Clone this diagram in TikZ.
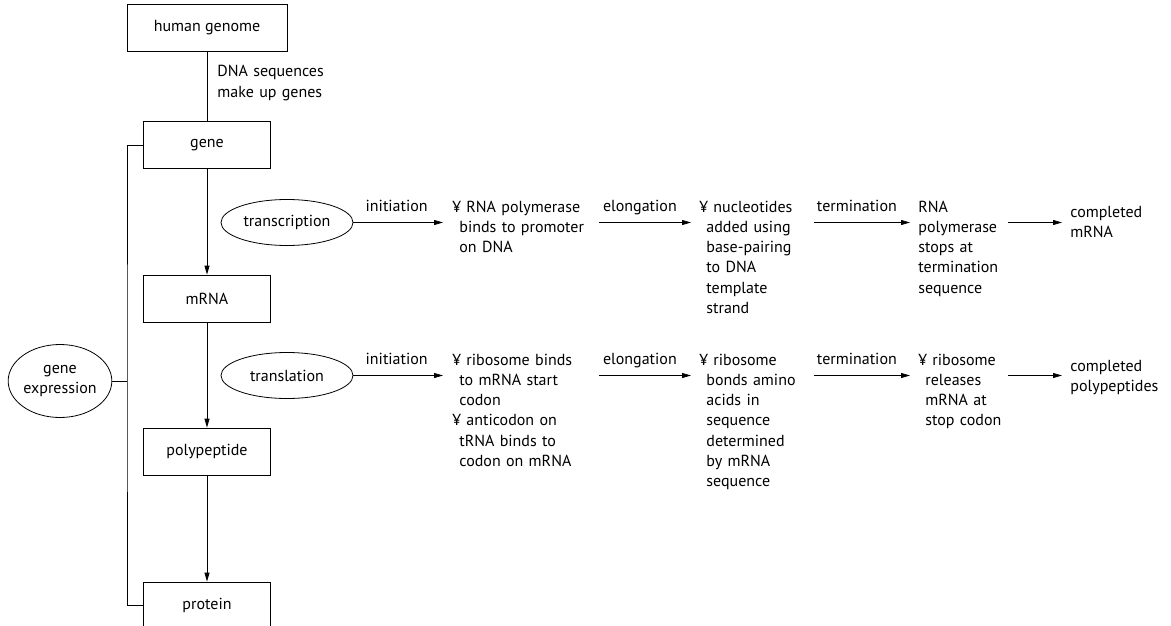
\documentclass[tikz,border=0pt]{standalone}
\usepackage{fontspec}
\setmainfont{PT Sans}
\usetikzlibrary{shapes.geometric,arrows.meta}
\hyphenpenalty=10000
\exhyphenpenalty=10000
\begin{document}
\begin{tikzpicture}
    [x=1pt, y=-1pt, line width=0.8pt,
     every node/.style={font=\fontsize{16}{20.3}\selectfont},
     box/.style={draw, minimum width=127pt, minimum height=47pt, inner sep=0pt},
     oval/.style={draw, ellipse, minimum width=132pt, minimum height=46pt, inner sep=0pt},
     txt/.style={anchor=base west, align=left, inner sep=0pt},
     lbl/.style={midway, anchor=base, inner sep=0pt, yshift=11pt, xshift=-6pt},
     arr/.style={-{Triangle[length=9pt,width=5pt]}},
     steparr/.style={arr, shorten <=6pt, shorten >=8pt}]
    \useasboundingbox (0,0) rectangle (1171,626);

    % main column
    \node [box, minimum width=160pt] (genome) at (207,27.5) {human genome};
    \node [box] (gene) at (207,145) {gene};
    \node [box] (mrna) at (207,298.5) {mRNA};
    \node [box] (poly) at (207,451.5) {polypeptide};
    \node [box] (prot) at (207,605.5) {protein};
    \node [txt, text width=120pt] (dnaseq) at (217,77) {DNA sequences\\make up genes};

    \draw (genome) -- (gene);
    \draw [arr] (gene) -- (mrna);
    \draw [arr] (mrna) -- (poly);
    \draw [arr] (poly) -- (prot);

    % gene expression bracket
    \node [oval, minimum width=99pt, minimum height=73pt, align=center] (genex) at (60,381) {gene\\expression};
    \coordinate (brk) at (127,381);
    \draw (gene.west) -| (brk) |- (prot.west);
    \draw (genex) -- (brk);

    % transcription
    \node [oval] (tcr) at (287,222.5) {transcription};
    \node [txt, text width=140pt] (t1) at (452,212) {¥ RNA polymerase\\\hspace*{7pt}binds to promoter\\\hspace*{7pt}on DNA};
    \node [txt, text width=108pt] (t2) at (699,212) {¥ nucleotides\\\hspace*{7pt}added using\\\hspace*{7pt}base-pairing\\\hspace*{7pt}to DNA\\\hspace*{7pt}template\\\hspace*{7pt}strand};
    \node [txt, text width=83pt] (t3) at (918,212) {RNA\\polymerase\\stops at\\termination\\sequence};
    \node [txt, text width=100pt] (t4) at (1070,217) {completed\\mRNA};

    \draw [arr, shorten >=9pt] (tcr) -- (tcr -| t1.west) node [lbl] {initiation};
    \draw [steparr] (tcr -| t1.east) -- (tcr -| t2.west) node [lbl] {elongation};
    \draw [steparr] (tcr -| t2.east) -- (tcr -| t3.west) node [lbl] {termination};
    \draw [steparr] (tcr -| t3.east) -- (tcr -| t4.west);

    % translation
    \node [oval] (trl) at (287,375.5) {translation};
    \node [txt, text width=140pt] (b1) at (452,365) {¥ ribosome binds\\\hspace*{7pt}to mRNA start\\\hspace*{7pt}codon\\¥ anticodon on\\\hspace*{7pt}tRNA binds to\\\hspace*{7pt}codon on mRNA};
    \node [txt, text width=108pt] (b2) at (699,365) {¥ ribosome\\\hspace*{7pt}bonds amino\\\hspace*{7pt}acids in\\\hspace*{7pt}sequence\\\hspace*{7pt}determined\\\hspace*{7pt}by mRNA\\\hspace*{7pt}sequence};
    \node [txt, text width=83pt] (b3) at (918,365) {¥ ribosome\\\hspace*{7pt}releases\\\hspace*{7pt}mRNA at\\\hspace*{7pt}stop codon};
    \node [txt, text width=100pt] (b4) at (1070,371) {completed\\polypeptides};

    \draw [arr, shorten >=9pt] (trl) -- (trl -| b1.west) node [lbl] {initiation};
    \draw [steparr] (trl -| b1.east) -- (trl -| b2.west) node [lbl] {elongation};
    \draw [steparr] (trl -| b2.east) -- (trl -| b3.west) node [lbl] {termination};
    \draw [steparr] (trl -| b3.east) -- (trl -| b4.west);
\end{tikzpicture}
\end{document}
